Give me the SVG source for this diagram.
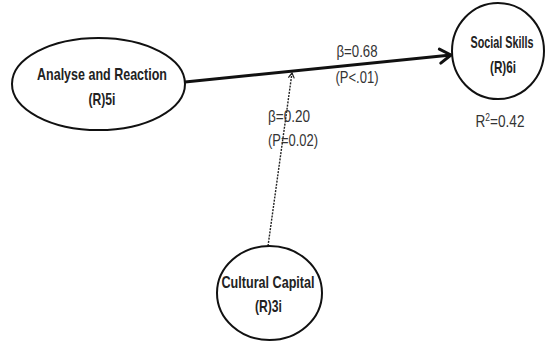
<svg xmlns="http://www.w3.org/2000/svg" width="546" height="341" viewBox="0 0 546 341">
<style>
.node{fill:#fff;stroke:#111;stroke-width:2}
.nt{font-family:"Liberation Sans",Arial,sans-serif;font-weight:bold;font-size:17px;fill:#222;text-anchor:middle}
.lb{font-family:"Liberation Sans",Arial,sans-serif;font-size:16px;fill:#333;text-anchor:middle}
</style>
<defs>
<marker id="ah" markerUnits="userSpaceOnUse" markerWidth="20" markerHeight="20" refX="13" refY="8" orient="auto" viewBox="0 0 20 16">
<path d="M2,1 L13,8 L2,15" fill="none" stroke="#111" stroke-width="3" stroke-linecap="round" stroke-linejoin="round"/>
</marker>
<marker id="ah2" markerUnits="userSpaceOnUse" markerWidth="10" markerHeight="10" refX="6" refY="4" orient="auto" viewBox="0 0 10 8">
<path d="M1,1 L6,4 L1,7" fill="none" stroke="#222" stroke-width="1.2"/>
</marker>
</defs>
<rect width="546" height="341" fill="#fff"/>
<g id="connectors">
<line x1="185" y1="82" x2="451" y2="55" stroke="#111" stroke-width="3" marker-end="url(#ah)"/>
<line x1="268" y1="246" x2="292" y2="73" stroke="#222" stroke-width="1.4" stroke-dasharray="2,1.2" marker-end="url(#ah2)"/>
<text class="lb" x="357" y="57" textLength="41" lengthAdjust="spacingAndGlyphs">β=0.68</text>
<text class="lb" x="357" y="83" textLength="43" lengthAdjust="spacingAndGlyphs">(P&lt;.01)</text>
<text class="lb" x="289" y="122" textLength="42" lengthAdjust="spacingAndGlyphs">β=0.20</text>
<text class="lb" x="293" y="146" textLength="50" lengthAdjust="spacingAndGlyphs">(P=0.02)</text>
<text class="lb" x="500" y="127" font-size="14" transform="translate(500 0) scale(0.85 1) translate(-500 0)">R<tspan dy="-6" font-size="10">2</tspan><tspan dy="6">=0.42</tspan></text>
</g>
<g id="analyse">
<ellipse class="node" cx="98.5" cy="84" rx="86.5" ry="46"/>
<text class="nt" x="102" y="80" textLength="130" lengthAdjust="spacingAndGlyphs">Analyse and Reaction</text>
<text class="nt" x="102" y="105" textLength="27" lengthAdjust="spacingAndGlyphs">(R)5i</text>
</g>
<g id="social">
<ellipse class="node" cx="498" cy="51" rx="46" ry="48"/>
<text class="nt" x="502" y="48" textLength="63" lengthAdjust="spacingAndGlyphs">Social Skills</text>
<text class="nt" x="503" y="73" textLength="26" lengthAdjust="spacingAndGlyphs">(R)6i</text>
</g>
<g id="cultural">
<ellipse class="node" cx="269.5" cy="293" rx="52.5" ry="47"/>
<text class="nt" x="268" y="288" textLength="93" lengthAdjust="spacingAndGlyphs">Cultural Capital</text>
<text class="nt" x="268.5" y="312" textLength="27" lengthAdjust="spacingAndGlyphs">(R)3i</text>
</g>
</svg>
